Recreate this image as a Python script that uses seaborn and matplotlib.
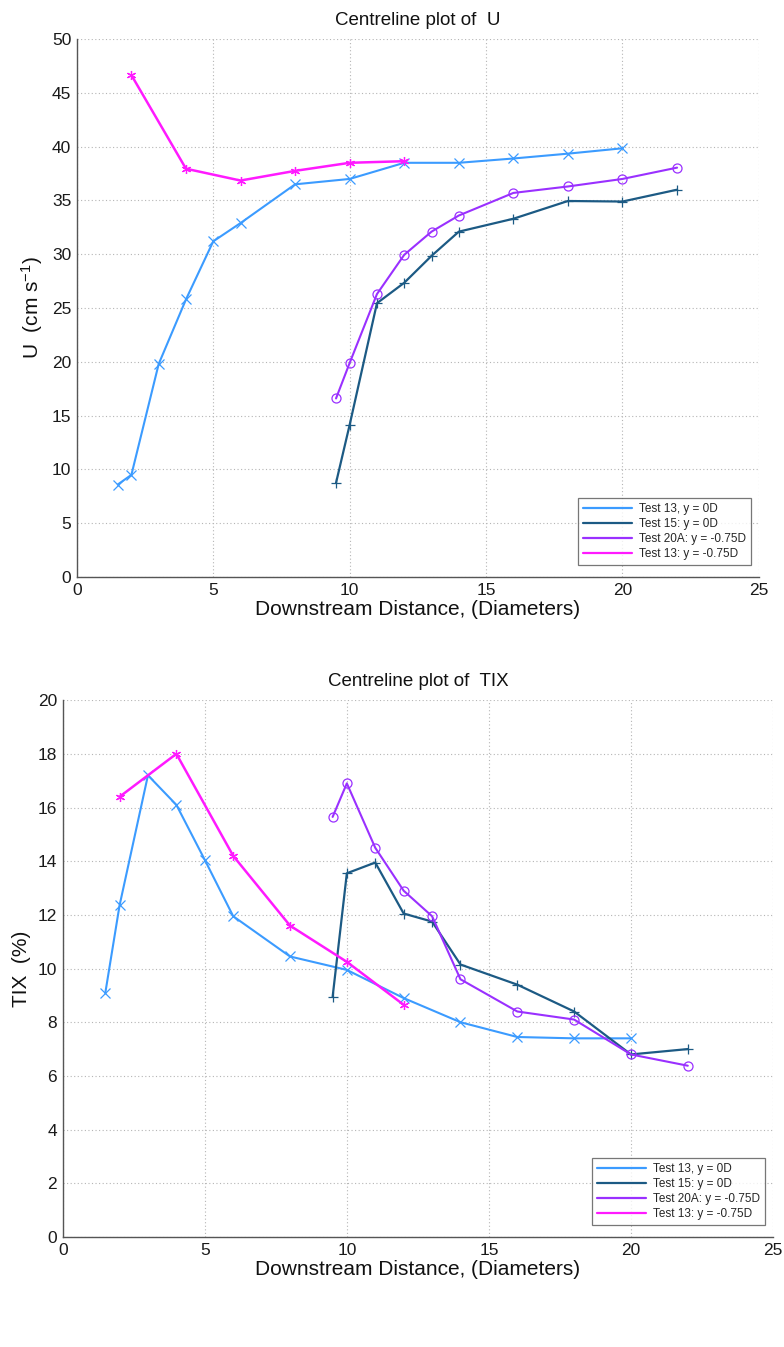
import numpy as np
import pandas as pd
import matplotlib
matplotlib.use("Agg")
import matplotlib.pyplot as plt
from matplotlib import font_manager
from matplotlib.lines import Line2D
import seaborn as sns

# ---- centreline velocity U (cm/s) ----
u_t13_x = [1.5, 2, 3, 4, 5, 6, 8, 10, 12, 14, 16, 18, 20]
u_t13_y = [8.6, 9.5, 19.8, 25.8, 31.2, 32.9, 36.5, 37.0, 38.5, 38.5, 38.9, 39.35, 39.85]
u_t15_x = [9.5, 10, 11, 12, 13, 14, 16, 18, 20, 22]
u_t15_y = [8.75, 14.15, 25.45, 27.35, 29.85, 32.1, 33.3, 34.95, 34.9, 36.0]
u_t20a_x = [9.5, 10, 11, 12, 13, 14, 16, 18, 20, 22]
u_t20a_y = [16.6, 19.9, 26.3, 29.95, 32.1, 33.6, 35.7, 36.3, 37.0, 38.05]
u_t13n_x = [2, 4, 6, 8, 10, 12]
u_t13n_y = [46.65, 37.95, 36.85, 37.75, 38.5, 38.65]

# ---- centreline turbulence intensity TIX (%) ----
tix_t13_x = [1.5, 2, 3, 4, 5, 6, 8, 10, 12, 14, 16, 18, 20]
tix_t13_y = [9.1, 12.35, 17.2, 16.1, 14.05, 11.95, 10.45, 9.95, 8.9, 8.0, 7.45, 7.4, 7.4]
tix_t15_x = [9.5, 10, 11, 12, 13, 14, 16, 18, 20, 22]
tix_t15_y = [8.95, 13.55, 13.95, 12.05, 11.75, 10.15, 9.4, 8.4, 6.8, 7.0]
tix_t20a_x = [9.5, 10, 11, 12, 13, 14, 16, 18, 20, 22]
tix_t20a_y = [15.65, 16.9, 14.5, 12.9, 11.95, 9.6, 8.4, 8.1, 6.8, 6.38]
tix_t13n_x = [2, 4, 6, 8, 10, 12]
tix_t13n_y = [16.4, 18.0, 14.2, 11.6, 10.25, 8.65]

labels = ["Test 13, y = 0D", "Test 15: y = 0D", "Test 20A: y = -0.75D", "Test 13: y = -0.75D"]
colors = ["#3b9bff", "#1c5a84", "#9a30ff", "#ff1aff"]
markers = ["x", "+", "o", (6, 2, 0)]  # last one: six-armed asterisk

sns.set_style("white")
avail = {f.name for f in font_manager.fontManager.ttflist}
fam = [f for f in ["Liberation Sans Narrow", "Liberation Sans", "DejaVu Sans"] if f in avail]
plt.rcParams["font.family"] = fam
plt.rcParams["mathtext.fontset"] = "custom"
plt.rcParams["mathtext.rm"] = fam[0]
plt.rcParams["mathtext.it"] = fam[0]

fig = plt.figure(figsize=(7.84, 13.47), dpi=100)
ax1 = fig.add_axes([0.098, 0.5716, 0.870, 0.3994])
ax2 = fig.add_axes([0.080, 0.0817, 0.906, 0.3985])


def draw_series(ax, xs, ys, color, marker, lw):
    df = pd.DataFrame({"x": xs, "y": ys})
    mfc = "none" if marker == "o" else color
    sns.lineplot(data=df, x="x", y="y", ax=ax, color=color, linewidth=lw,
                 marker=marker, markersize=6.5, markerfacecolor=mfc,
                 markeredgecolor=color, markeredgewidth=0.9,
                 estimator=None, sort=False, legend=False)


def style_axes(ax, ymax, ystep, ylabel, title):
    ax.set_xlim(0, 25)
    ax.set_ylim(0, ymax)
    ax.set_xticks(np.arange(0, 26, 5))
    ax.set_yticks(np.arange(0, ymax + 0.1, ystep))
    ax.grid(True, linestyle=(0, (1, 2.2)), color="#b5b5b5", linewidth=0.8)
    for s in ["top", "right"]:
        ax.spines[s].set_visible(False)
    for s in ["left", "bottom"]:
        ax.spines[s].set_color("#555555")
        ax.spines[s].set_linewidth(1.0)
    ax.tick_params(direction="in", length=5, width=0.8, colors="#555555",
                   labelcolor="#1a1a1a", labelsize=12.5, pad=4)
    ax.set_xlabel("Downstream Distance, (Diameters)", fontsize=15, color="#111111", labelpad=2)
    ax.set_ylabel(ylabel, fontsize=15, color="#111111", labelpad=5)
    ax.set_title(title, fontsize=13.5, color="#111111", pad=10)
    handles = [Line2D([0], [0], color=c, lw=1.6) for c in colors]
    leg = ax.legend(handles, labels, loc="lower right", fontsize=8.5,
                    frameon=True, fancybox=False, handlelength=4.2,
                    borderpad=0.4, labelspacing=0.25, handletextpad=0.6,
                    bbox_to_anchor=(0.997, 0.012))
    leg.get_frame().set_edgecolor("#555555")
    leg.get_frame().set_linewidth(0.9)


series_u = [(u_t13_x, u_t13_y), (u_t15_x, u_t15_y), (u_t20a_x, u_t20a_y), (u_t13n_x, u_t13n_y)]
series_t = [(tix_t13_x, tix_t13_y), (tix_t15_x, tix_t15_y), (tix_t20a_x, tix_t20a_y), (tix_t13n_x, tix_t13n_y)]
widths = [1.5, 1.6, 1.5, 1.8]

for (xs, ys), c, m, w in zip(series_u, colors, markers, widths):
    draw_series(ax1, xs, ys, c, m, w)
for (xs, ys), c, m, w in zip(series_t, colors, markers, widths):
    draw_series(ax2, xs, ys, c, m, w)

style_axes(ax1, 50, 5, r"U  (cm s$^{-1}$)", "Centreline plot of  U")
style_axes(ax2, 20, 2, "TIX  (%)", "Centreline plot of  TIX")

fig.savefig("out.png", dpi=100)
